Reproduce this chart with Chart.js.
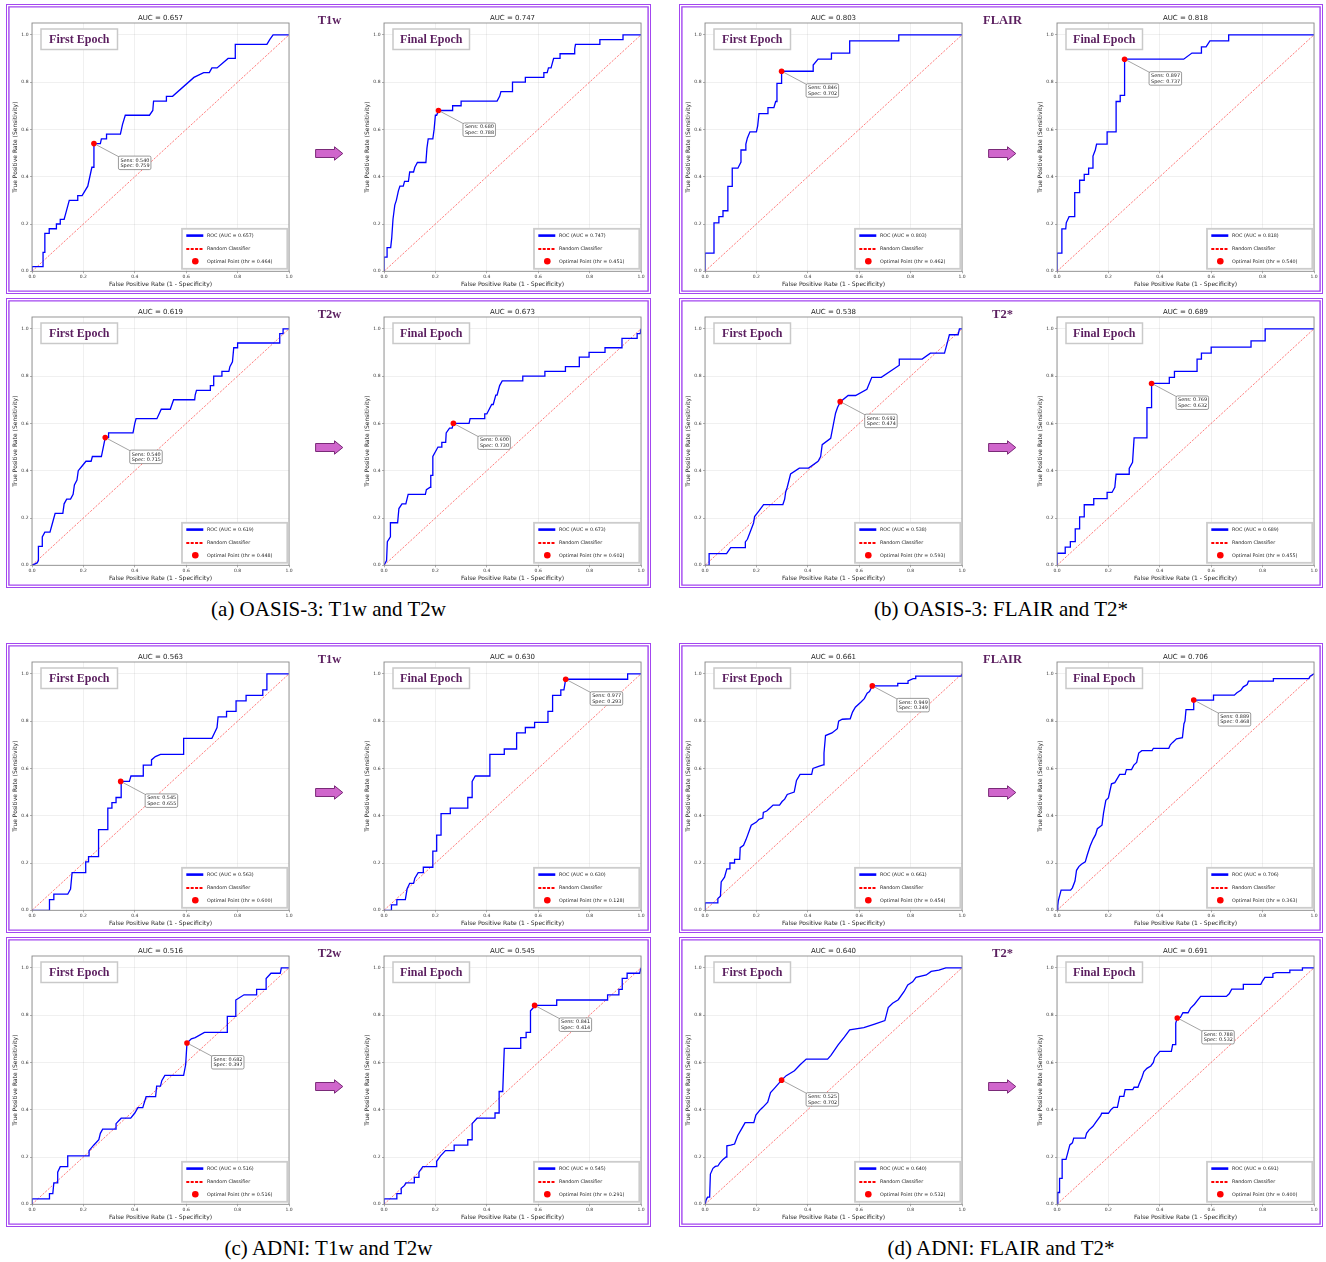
<!DOCTYPE html>
<html>
<head>
<meta charset="utf-8">
<title>ROC curves - first vs final epoch</title>
<script src="https://cdn.jsdelivr.net/npm/chart.js@4.4.1/dist/chart.umd.min.js"></script>
<style>
  html, body { margin: 0; padding: 0; background: #fff; }
  body { width: 1326px; height: 1262px; position: relative; overflow: hidden; }
  .box {
    position: absolute; height: 290px; box-sizing: border-box; background: #fff;
    border: 1.5px solid #a346f0;
    box-shadow: inset 0 0 0 1.2px #fff, inset 0 0 0 2.6px #a346f0;
  }
  .roc { position: absolute; }
  .modality {
    position: absolute; width: 80px; margin-left: -40px; text-align: center;
    font: bold 12.5px "Liberation Serif", "Times New Roman", serif; color: #5b1f5f; line-height: 14px;
  }
  .arrow { position: absolute; }
  .caption {
    position: absolute; text-align: center; line-height: 24px;
    font-family: "Liberation Serif", "Times New Roman", serif; font-size: 21px; color: #000;
  }
</style>
</head>
<body>
<script>
// ---- ROC curves [fpr, tpr] ----
// (a) OASIS-3, T1w / T2w
const rocA1 = [[0,0],[0,0.02],[0.043,0.02],[0.043,0.08],[0.05,0.08],[0.05,0.16],[0.067,0.16],[0.067,0.18],[0.095,0.18],[0.095,0.2],[0.11,0.2],[0.11,0.22],[0.125,0.22],[0.13,0.24],[0.145,0.3],[0.178,0.3],[0.178,0.32],[0.195,0.32],[0.217,0.36],[0.233,0.44],[0.241,0.44],[0.241,0.54],[0.266,0.54],[0.27,0.56],[0.29,0.56],[0.29,0.58],[0.344,0.58],[0.352,0.62],[0.363,0.66],[0.457,0.66],[0.47,0.68],[0.473,0.72],[0.523,0.72],[0.523,0.74],[0.547,0.74],[0.63,0.82],[0.668,0.84],[0.69,0.84],[0.7,0.86],[0.72,0.86],[0.763,0.9],[0.791,0.9],[0.791,0.96],[0.914,0.96],[0.925,0.98],[0.938,1],[1,1]];
const rocA2 = [[0,0],[0,0.06],[0.012,0.06],[0.012,0.1],[0.026,0.1],[0.03,0.14],[0.035,0.22],[0.042,0.28],[0.048,0.3],[0.056,0.34],[0.062,0.36],[0.075,0.36],[0.08,0.38],[0.095,0.38],[0.1,0.42],[0.115,0.42],[0.12,0.44],[0.13,0.46],[0.163,0.46],[0.167,0.52],[0.172,0.56],[0.19,0.56],[0.195,0.6],[0.2,0.66],[0.205,0.66],[0.212,0.68],[0.267,0.68],[0.267,0.7],[0.3,0.7],[0.3,0.72],[0.44,0.72],[0.45,0.74],[0.455,0.76],[0.5,0.76],[0.5,0.8],[0.55,0.8],[0.55,0.82],[0.62,0.82],[0.622,0.84],[0.635,0.84],[0.64,0.86],[0.65,0.86],[0.655,0.88],[0.66,0.9],[0.685,0.9],[0.685,0.92],[0.74,0.92],[0.742,0.94],[0.745,0.96],[0.84,0.96],[0.84,0.98],[0.93,0.98],[0.93,1],[1,1]];
const rocA3 = [[0,0],[0.02,0.01],[0.025,0.02],[0.025,0.08],[0.04,0.08],[0.04,0.12],[0.05,0.14],[0.07,0.14],[0.08,0.18],[0.09,0.22],[0.12,0.22],[0.125,0.26],[0.135,0.28],[0.15,0.28],[0.16,0.3],[0.165,0.34],[0.175,0.36],[0.18,0.4],[0.195,0.42],[0.21,0.44],[0.23,0.44],[0.235,0.46],[0.27,0.46],[0.285,0.54],[0.298,0.54],[0.298,0.56],[0.393,0.56],[0.4,0.6],[0.405,0.62],[0.486,0.62],[0.503,0.66],[0.538,0.66],[0.551,0.7],[0.633,0.7],[0.635,0.72],[0.64,0.74],[0.694,0.74],[0.694,0.76],[0.707,0.76],[0.707,0.8],[0.739,0.8],[0.739,0.82],[0.766,0.82],[0.77,0.84],[0.78,0.86],[0.785,0.92],[0.8,0.92],[0.8,0.94],[0.964,0.94],[0.964,0.98],[0.977,0.98],[0.977,1],[1,1]];
const rocA4 = [[0,0],[0.01,0.02],[0.013,0.1],[0.025,0.12],[0.025,0.18],[0.053,0.18],[0.058,0.24],[0.07,0.26],[0.085,0.26],[0.094,0.3],[0.161,0.3],[0.165,0.32],[0.18,0.33],[0.182,0.38],[0.19,0.38],[0.19,0.46],[0.21,0.5],[0.225,0.5],[0.225,0.52],[0.24,0.52],[0.242,0.56],[0.255,0.58],[0.265,0.58],[0.27,0.6],[0.331,0.6],[0.335,0.62],[0.392,0.62],[0.392,0.64],[0.4,0.64],[0.419,0.68],[0.425,0.68],[0.435,0.72],[0.44,0.72],[0.45,0.76],[0.46,0.78],[0.54,0.78],[0.54,0.8],[0.626,0.8],[0.626,0.82],[0.706,0.82],[0.706,0.84],[0.76,0.84],[0.76,0.88],[0.798,0.88],[0.798,0.9],[0.86,0.9],[0.86,0.92],[0.926,0.92],[0.926,0.96],[0.985,0.96],[0.985,0.98],[0.997,0.98],[1,1]];
// (b) OASIS-3, FLAIR / T2*
const rocB1 = [[0,0],[0,0.077],[0.035,0.077],[0.035,0.205],[0.054,0.205],[0.054,0.231],[0.07,0.231],[0.07,0.256],[0.089,0.256],[0.089,0.359],[0.106,0.359],[0.106,0.436],[0.128,0.436],[0.14,0.462],[0.14,0.513],[0.159,0.513],[0.159,0.538],[0.165,0.564],[0.175,0.59],[0.2,0.59],[0.205,0.615],[0.21,0.667],[0.245,0.667],[0.245,0.692],[0.268,0.692],[0.275,0.718],[0.28,0.718],[0.28,0.795],[0.297,0.795],[0.298,0.846],[0.421,0.846],[0.421,0.872],[0.44,0.897],[0.492,0.897],[0.492,0.923],[0.563,0.923],[0.563,0.974],[0.754,0.974],[0.754,1],[1,1]];
const rocB2 = [[0,0],[0,0.077],[0.019,0.077],[0.019,0.179],[0.034,0.179],[0.036,0.205],[0.047,0.231],[0.069,0.231],[0.069,0.333],[0.088,0.333],[0.088,0.385],[0.106,0.385],[0.106,0.41],[0.123,0.41],[0.123,0.436],[0.14,0.436],[0.14,0.487],[0.149,0.513],[0.154,0.538],[0.195,0.538],[0.195,0.59],[0.23,0.59],[0.23,0.718],[0.246,0.718],[0.246,0.744],[0.263,0.744],[0.263,0.897],[0.493,0.897],[0.525,0.923],[0.562,0.923],[0.562,0.949],[0.58,0.949],[0.595,0.974],[0.668,0.974],[0.668,1],[1,1]];
const rocB3 = [[0,0],[0.016,0],[0.016,0.049],[0.084,0.049],[0.1,0.075],[0.157,0.075],[0.157,0.099],[0.165,0.11],[0.189,0.179],[0.193,0.206],[0.21,0.23],[0.228,0.257],[0.303,0.257],[0.31,0.28],[0.314,0.31],[0.32,0.33],[0.333,0.386],[0.367,0.411],[0.403,0.411],[0.44,0.44],[0.45,0.46],[0.456,0.51],[0.489,0.537],[0.508,0.643],[0.516,0.668],[0.527,0.692],[0.557,0.718],[0.586,0.718],[0.63,0.744],[0.649,0.795],[0.686,0.795],[0.756,0.846],[0.756,0.872],[0.845,0.872],[0.877,0.897],[0.932,0.897],[0.945,0.95],[0.951,0.975],[0.985,0.975],[0.99,1],[1,1]];
const rocB4 = [[0,0],[0,0.051],[0.032,0.051],[0.032,0.077],[0.052,0.077],[0.052,0.1],[0.071,0.1],[0.071,0.154],[0.088,0.154],[0.088,0.205],[0.106,0.205],[0.106,0.256],[0.143,0.256],[0.143,0.282],[0.195,0.282],[0.195,0.308],[0.214,0.308],[0.225,0.33],[0.23,0.385],[0.281,0.385],[0.281,0.41],[0.294,0.436],[0.3,0.539],[0.35,0.539],[0.35,0.667],[0.368,0.667],[0.368,0.769],[0.437,0.769],[0.437,0.795],[0.457,0.795],[0.457,0.82],[0.545,0.82],[0.545,0.872],[0.562,0.872],[0.562,0.897],[0.6,0.897],[0.6,0.923],[0.755,0.923],[0.755,0.949],[0.81,0.949],[0.81,1],[1,1]];
// (c) ADNI, T1w / T2w
const rocC1 = [[0,0],[0.068,0],[0.068,0.045],[0.085,0.045],[0.085,0.068],[0.139,0.068],[0.15,0.09],[0.156,0.159],[0.209,0.159],[0.209,0.205],[0.22,0.205],[0.22,0.227],[0.259,0.227],[0.259,0.341],[0.295,0.341],[0.295,0.432],[0.311,0.432],[0.311,0.455],[0.327,0.455],[0.327,0.477],[0.347,0.477],[0.347,0.545],[0.379,0.545],[0.385,0.568],[0.433,0.568],[0.433,0.614],[0.465,0.614],[0.465,0.636],[0.48,0.65],[0.5,0.659],[0.59,0.659],[0.59,0.727],[0.7,0.727],[0.71,0.75],[0.72,0.773],[0.724,0.818],[0.757,0.818],[0.757,0.841],[0.794,0.841],[0.794,0.886],[0.833,0.886],[0.833,0.909],[0.898,0.909],[0.898,0.932],[0.914,0.932],[0.914,1],[1,1]];
const rocC2 = [[0,0],[0.029,0],[0.029,0.023],[0.05,0.023],[0.05,0.045],[0.083,0.045],[0.09,0.091],[0.1,0.114],[0.115,0.114],[0.12,0.136],[0.133,0.159],[0.153,0.159],[0.153,0.182],[0.19,0.182],[0.19,0.25],[0.205,0.25],[0.205,0.318],[0.222,0.318],[0.222,0.409],[0.258,0.409],[0.258,0.432],[0.326,0.432],[0.326,0.477],[0.343,0.477],[0.343,0.545],[0.355,0.568],[0.412,0.568],[0.412,0.659],[0.468,0.659],[0.468,0.682],[0.516,0.682],[0.516,0.75],[0.55,0.75],[0.55,0.773],[0.586,0.773],[0.586,0.795],[0.638,0.795],[0.638,0.841],[0.656,0.841],[0.656,0.909],[0.688,0.909],[0.688,0.932],[0.7,0.932],[0.707,0.977],[0.948,0.977],[0.948,1],[1,1]];
const rocC3 = [[0,0],[0,0.023],[0.068,0.023],[0.068,0.045],[0.081,0.045],[0.085,0.091],[0.1,0.091],[0.1,0.136],[0.11,0.159],[0.139,0.159],[0.139,0.205],[0.222,0.205],[0.222,0.227],[0.24,0.25],[0.26,0.273],[0.266,0.3],[0.275,0.318],[0.327,0.318],[0.327,0.341],[0.347,0.364],[0.384,0.364],[0.4,0.386],[0.412,0.409],[0.431,0.409],[0.444,0.455],[0.481,0.455],[0.485,0.5],[0.5,0.5],[0.505,0.523],[0.517,0.545],[0.59,0.545],[0.598,0.591],[0.603,0.682],[0.62,0.7],[0.635,0.705],[0.671,0.727],[0.76,0.727],[0.76,0.795],[0.793,0.795],[0.793,0.864],[0.825,0.886],[0.874,0.886],[0.874,0.909],[0.911,0.909],[0.911,0.955],[0.93,0.977],[0.966,0.977],[0.97,1],[1,1]];
const rocC4 = [[0,0],[0,0.023],[0.05,0.023],[0.05,0.045],[0.067,0.045],[0.067,0.068],[0.08,0.08],[0.085,0.091],[0.118,0.091],[0.118,0.114],[0.136,0.114],[0.136,0.136],[0.151,0.159],[0.205,0.159],[0.205,0.182],[0.22,0.205],[0.239,0.227],[0.273,0.227],[0.273,0.25],[0.326,0.25],[0.326,0.273],[0.343,0.273],[0.343,0.341],[0.362,0.364],[0.432,0.364],[0.432,0.386],[0.448,0.386],[0.448,0.477],[0.462,0.477],[0.468,0.659],[0.532,0.659],[0.532,0.705],[0.553,0.705],[0.553,0.727],[0.57,0.727],[0.57,0.818],[0.58,0.83],[0.586,0.841],[0.672,0.841],[0.672,0.864],[0.87,0.864],[0.87,0.886],[0.914,0.886],[0.914,0.909],[0.927,0.909],[0.927,0.955],[0.946,0.955],[0.946,0.977],[0.995,0.977],[1,1]];
// (d) ADNI, FLAIR / T2*
const rocD1 = [[0,0],[0,0.031],[0.05,0.031],[0.05,0.05],[0.06,0.06],[0.063,0.12],[0.076,0.14],[0.085,0.175],[0.094,0.175],[0.097,0.2],[0.115,0.2],[0.115,0.215],[0.135,0.215],[0.137,0.265],[0.15,0.275],[0.16,0.3],[0.175,0.345],[0.18,0.36],[0.2,0.373],[0.21,0.385],[0.225,0.39],[0.227,0.414],[0.24,0.42],[0.255,0.435],[0.265,0.445],[0.29,0.445],[0.3,0.46],[0.31,0.47],[0.32,0.49],[0.347,0.5],[0.356,0.549],[0.37,0.575],[0.415,0.575],[0.42,0.6],[0.445,0.61],[0.46,0.615],[0.463,0.665],[0.469,0.739],[0.494,0.75],[0.515,0.768],[0.52,0.8],[0.534,0.808],[0.565,0.81],[0.574,0.838],[0.585,0.859],[0.606,0.88],[0.62,0.895],[0.631,0.918],[0.64,0.925],[0.651,0.949],[0.75,0.949],[0.75,0.96],[0.79,0.96],[0.79,0.97],[0.81,0.98],[0.82,0.98],[0.82,0.99],[0.998,0.99],[1,1]];
const rocD2 = [[0,0],[0.003,0.02],[0.005,0.04],[0.016,0.085],[0.053,0.085],[0.06,0.095],[0.07,0.124],[0.076,0.169],[0.085,0.185],[0.095,0.195],[0.11,0.205],[0.118,0.235],[0.129,0.272],[0.14,0.3],[0.15,0.32],[0.157,0.345],[0.175,0.36],[0.181,0.411],[0.19,0.465],[0.2,0.475],[0.212,0.535],[0.225,0.54],[0.244,0.575],[0.265,0.575],[0.27,0.595],[0.29,0.595],[0.299,0.614],[0.31,0.625],[0.318,0.665],[0.33,0.675],[0.37,0.675],[0.375,0.685],[0.435,0.685],[0.441,0.7],[0.45,0.71],[0.465,0.725],[0.488,0.73],[0.494,0.789],[0.498,0.8],[0.502,0.849],[0.532,0.849],[0.532,0.889],[0.609,0.889],[0.609,0.91],[0.69,0.91],[0.7,0.92],[0.715,0.93],[0.725,0.945],[0.74,0.955],[0.745,0.969],[0.842,0.969],[0.842,0.98],[0.98,0.98],[0.985,0.99],[1,1]];
const rocD3 = [[0,0],[0.005,0.02],[0.01,0.03],[0.018,0.03],[0.021,0.128],[0.031,0.152],[0.04,0.16],[0.05,0.162],[0.058,0.175],[0.07,0.19],[0.082,0.2],[0.085,0.247],[0.1,0.25],[0.115,0.255],[0.127,0.29],[0.144,0.322],[0.156,0.345],[0.19,0.345],[0.198,0.377],[0.215,0.4],[0.225,0.41],[0.244,0.432],[0.255,0.472],[0.27,0.49],[0.298,0.525],[0.316,0.544],[0.348,0.565],[0.37,0.59],[0.394,0.614],[0.477,0.614],[0.49,0.63],[0.518,0.674],[0.542,0.707],[0.563,0.738],[0.618,0.747],[0.66,0.762],[0.7,0.777],[0.713,0.832],[0.73,0.85],[0.752,0.865],[0.775,0.9],[0.789,0.928],[0.808,0.941],[0.821,0.96],[0.861,0.97],[0.88,0.985],[0.91,0.99],[0.937,1],[1,1]];
const rocD4 = [[0,0],[0.003,0.05],[0.01,0.05],[0.01,0.11],[0.02,0.11],[0.02,0.19],[0.035,0.19],[0.04,0.21],[0.05,0.251],[0.06,0.26],[0.065,0.28],[0.11,0.28],[0.115,0.3],[0.125,0.315],[0.14,0.33],[0.15,0.345],[0.16,0.36],[0.17,0.375],[0.174,0.385],[0.2,0.385],[0.21,0.4],[0.22,0.41],[0.235,0.41],[0.244,0.456],[0.26,0.456],[0.265,0.485],[0.295,0.485],[0.3,0.495],[0.315,0.495],[0.32,0.51],[0.33,0.535],[0.338,0.561],[0.35,0.575],[0.365,0.585],[0.375,0.6],[0.38,0.62],[0.4,0.647],[0.445,0.647],[0.45,0.675],[0.46,0.675],[0.462,0.766],[0.468,0.788],[0.48,0.79],[0.49,0.81],[0.51,0.81],[0.52,0.83],[0.535,0.846],[0.545,0.86],[0.559,0.879],[0.659,0.879],[0.67,0.89],[0.68,0.91],[0.725,0.91],[0.725,0.93],[0.793,0.93],[0.8,0.945],[0.809,0.96],[0.837,0.96],[0.84,0.975],[0.853,0.98],[0.906,0.98],[0.906,0.99],[0.955,0.99],[0.955,1],[1,1]];

// per chart, order A1..A4, B1..B4, C1..C4, D1..D4
const aucScores   = [0.657, 0.747, 0.619, 0.673, 0.803, 0.818, 0.538, 0.689, 0.563, 0.630, 0.516, 0.545, 0.661, 0.706, 0.640, 0.691];
const optSens     = [0.540, 0.680, 0.540, 0.600, 0.846, 0.897, 0.692, 0.769, 0.545, 0.977, 0.682, 0.841, 0.949, 0.889, 0.525, 0.788];
const optSpec     = [0.759, 0.788, 0.715, 0.730, 0.702, 0.737, 0.474, 0.632, 0.655, 0.293, 0.397, 0.414, 0.349, 0.468, 0.702, 0.532];
const optThr      = [0.464, 0.451, 0.448, 0.602, 0.462, 0.540, 0.593, 0.455, 0.600, 0.128, 0.516, 0.291, 0.454, 0.363, 0.532, 0.400];
const epochNames  = ['First Epoch', 'Final Epoch'];
const modalities  = ['T1w', 'T2w', 'FLAIR', 'T2*', 'T1w', 'T2w', 'FLAIR', 'T2*'];
const captions    = ['(a) OASIS-3: T1w and T2w', '(b) OASIS-3: FLAIR and T2*', '(c) ADNI: T1w and T2w', '(d) ADNI: FLAIR and T2*'];
const xTicks = [0, 0.2, 0.4, 0.6, 0.8, 1.0];

const rocCurves = [rocA1, rocA2, rocA3, rocA4, rocB1, rocB2, rocB3, rocB4,
                   rocC1, rocC2, rocC3, rocC4, rocD1, rocD2, rocD3, rocD4];

// ---- layout ----
const boxLefts  = [6, 679];
const boxWidths = [645, 644];
const boxTops   = [4, 298, 643, 937];
const boxHeight = 290;
const plotOffsets = [26, 378];   // plot left edge inside a box
const yAxisW = 26, xAxisH = 17;
const canvasW = 289, canvasH = 290;

// legend, annotation, badge, frame and title drawn on top of the datasets
const rocExtras = {
  id: 'rocExtras',
  afterDatasetsDraw(chart, args, o) {
    const {ctx, chartArea: a} = chart;
    const xs = chart.scales.x, ys = chart.scales.y;
    ctx.save();

    // frame
    ctx.strokeStyle = '#8c8c8c';
    ctx.lineWidth = 0.9;
    ctx.strokeRect(a.left, a.top, a.right - a.left, a.bottom - a.top);

    // title
    ctx.fillStyle = '#1e1e1e';
    ctx.font = '7px "DejaVu Sans"';
    ctx.textAlign = 'center';
    ctx.textBaseline = 'middle';
    ctx.fillText('AUC = ' + o.auc.toFixed(3), (a.left + a.right) / 2, a.top - 4.6);

    // epoch badge
    const bx = a.left + 9, by = a.top + 6;
    ctx.fillStyle = '#fff';
    ctx.fillRect(bx, by, 76.5, 20.5);
    ctx.strokeStyle = '#c9c9c9';
    ctx.lineWidth = 1.5;
    ctx.strokeRect(bx, by, 76.5, 20.5);
    ctx.fillStyle = '#5b1f5f';
    ctx.font = 'bold 12px "Liberation Serif"';
    ctx.fillText(o.epoch, bx + 38.25, by + 10.8);

    // optimal point annotation
    const px = xs.getPixelForValue(1 - o.spec), py = ys.getPixelForValue(o.sens);
    const tx = px + 24.5, ty = py + 12.5;
    ctx.strokeStyle = '#7d7d7d';
    ctx.lineWidth = 0.7;
    ctx.beginPath();
    ctx.moveTo(px + 2.4, py + 1.2);
    ctx.lineTo(tx + 1, ty + 1);
    ctx.stroke();
    ctx.beginPath();
    ctx.roundRect(tx, ty, 32.5, 13.5, 1.5);
    ctx.fillStyle = '#fff';
    ctx.fill();
    ctx.strokeStyle = '#6f6f6f';
    ctx.stroke();
    ctx.fillStyle = '#222';
    ctx.font = '4.9px "DejaVu Sans"';
    ctx.textAlign = 'left';
    ctx.fillText('Sens: ' + o.sens.toFixed(3), tx + 2, ty + 4.2);
    ctx.fillText('Spec: ' + o.spec.toFixed(3), tx + 2, ty + 9.6);

    // legend
    const lx = a.right - 107, ly = a.bottom - 42.5;
    ctx.fillStyle = '#fff';
    ctx.fillRect(lx, ly, 105.3, 40);
    ctx.strokeStyle = '#cccccc';
    ctx.lineWidth = 1.8;
    ctx.strokeRect(lx, ly, 105.3, 40);
    const hx0 = a.right - 102.7, hx1 = a.right - 85.7;
    const rows = [a.bottom - 35.7, a.bottom - 22.4, a.bottom - 10];
    ctx.strokeStyle = '#0000ff';
    ctx.lineWidth = 2.6;
    ctx.beginPath(); ctx.moveTo(hx0, rows[0]); ctx.lineTo(hx1, rows[0]); ctx.stroke();
    ctx.strokeStyle = '#ff0000';
    ctx.lineWidth = 2;
    ctx.setLineDash([3, 1.4]);
    ctx.beginPath(); ctx.moveTo(hx0, rows[1]); ctx.lineTo(hx1, rows[1]); ctx.stroke();
    ctx.setLineDash([]);
    ctx.fillStyle = '#ff0000';
    ctx.beginPath(); ctx.arc(a.right - 93.7, rows[2], 3.3, 0, Math.PI * 2); ctx.fill();
    ctx.fillStyle = '#222';
    ctx.font = '4.8px "DejaVu Sans"';
    ctx.fillText('ROC (AUC = ' + o.auc.toFixed(3) + ')', a.right - 82, rows[0]);
    ctx.fillText('Random Classifier', a.right - 82, rows[1]);
    ctx.fillText('Optimal Point (thr = ' + o.thr.toFixed(3) + ')', a.right - 82, rows[2]);

    ctx.restore();
  }
};

function makeRoc(left, top, idx, epoch) {
  const cv = document.createElement('canvas');
  cv.className = 'roc';
  cv.width = canvasW; cv.height = canvasH;
  cv.style.left = left + 'px';
  cv.style.top = top + 'px';
  cv.style.width = canvasW + 'px';
  cv.style.height = canvasH + 'px';
  document.body.appendChild(cv);

  const tickFont = {family: 'DejaVu Sans', size: 4.5};
  const titleFont = {family: 'DejaVu Sans', size: 6};
  const grid = {color: 'rgba(128,128,128,0.2)', lineWidth: 0.6, tickColor: '#777', tickLength: 2, tickWidth: 0.6};

  return new Chart(cv, {
    type: 'line',
    data: {
      datasets: [
        {
          label: 'Optimal Point',
          data: [{x: 1 - optSpec[idx], y: optSens[idx]}],
          showLine: false, pointRadius: 2.8, pointBackgroundColor: '#ff0000',
          pointBorderWidth: 0, order: 1
        },
        {
          label: 'ROC',
          data: rocCurves[idx].map(p => ({x: p[0], y: p[1]})),
          borderColor: '#0000ff', borderWidth: 1.3, pointRadius: 0,
          tension: 0, fill: false, order: 2
        },
        {
          label: 'Random Classifier',
          data: [{x: 0, y: 0}, {x: 1, y: 1}],
          borderColor: 'rgba(255,0,0,0.65)', borderWidth: 0.8, borderDash: [2.2, 1.4],
          pointRadius: 0, fill: false, order: 3
        }
      ]
    },
    options: {
      responsive: false,
      animation: false,
      events: [],
      layout: {padding: {left: 0, top: 19, right: 6, bottom: canvasH - 19 - 248.3 - xAxisH}},
      plugins: {
        legend: {display: false},
        title: {display: false},
        tooltip: {enabled: false},
        rocExtras: {
          auc: aucScores[idx], sens: optSens[idx], spec: optSpec[idx],
          thr: optThr[idx], epoch: epoch
        }
      },
      scales: {
        x: {
          type: 'linear', min: 0, max: 1,
          afterBuildTicks: s => { s.ticks = xTicks.map(v => ({value: v})); },
          ticks: {font: tickFont, color: '#333', padding: 0.6, maxRotation: 0, autoSkip: false,
                  callback: v => v.toFixed(1)},
          grid: grid,
          border: {display: false},
          title: {display: true, text: 'False Positive Rate (1 - Specificity)', font: titleFont,
                  color: '#1e1e1e', padding: {top: 0, bottom: 0}},
          afterFit: s => { s.height = xAxisH; }
        },
        y: {
          type: 'linear', min: 0, max: 1.05,
          ticks: {font: tickFont, color: '#333', padding: 1.5, stepSize: 0.2, includeBounds: false,
                  autoSkip: false, callback: v => v.toFixed(1)},
          grid: grid,
          border: {display: false},
          title: {display: true, text: 'True Positive Rate (Sensitivity)', font: titleFont,
                  color: '#1e1e1e', padding: {top: 6, bottom: 0}},
          afterFit: s => { s.width = yAxisW; }
        }
      }
    },
    plugins: [rocExtras]
  });
}

function arrowSvg(left, top) {
  const ns = 'http://www.w3.org/2000/svg';
  const svg = document.createElementNS(ns, 'svg');
  svg.setAttribute('class', 'arrow');
  svg.setAttribute('width', '29');
  svg.setAttribute('height', '15');
  svg.style.left = left + 'px';
  svg.style.top = top + 'px';
  const poly = document.createElementNS(ns, 'polygon');
  poly.setAttribute('points', '0.6,3.5 19.5,3.5 19.5,0.8 27.8,7.5 19.5,14.2 19.5,11.5 0.6,11.5');
  poly.setAttribute('fill', '#d066cc');
  poly.setAttribute('stroke', '#7a2a78');
  poly.setAttribute('stroke-width', '1');
  svg.appendChild(poly);
  document.body.appendChild(svg);
}

for (let p = 0; p < 4; p++) {
  const col = p % 2, pair = Math.floor(p / 2);
  const bl = boxLefts[col], bw = boxWidths[col];
  for (let sub = 0; sub < 2; sub++) {
    const bt = boxTops[pair * 2 + sub];
    const box = document.createElement('div');
    box.className = 'box';
    box.style.left = bl + 'px';
    box.style.top = bt + 'px';
    box.style.width = bw + 'px';
    document.body.appendChild(box);

    for (let k = 0; k < 2; k++) {
      makeRoc(bl + plotOffsets[k] - yAxisW, bt, p * 4 + sub * 2 + k, epochNames[k]);
    }

    const lab = document.createElement('div');
    lab.className = 'modality';
    lab.textContent = modalities[p * 2 + sub];
    lab.style.left = (bl + 323.5) + 'px';
    lab.style.top = (bt + 9) + 'px';
    document.body.appendChild(lab);

    arrowSvg(bl + 309, bt + 141.5);
  }
  const cap = document.createElement('div');
  cap.className = 'caption';
  cap.textContent = captions[p];
  cap.style.left = bl + 'px';
  cap.style.width = bw + 'px';
  cap.style.top = (boxTops[pair * 2 + 1] + boxHeight + 9) + 'px';
  document.body.appendChild(cap);
}
</script>
</body>
</html>
